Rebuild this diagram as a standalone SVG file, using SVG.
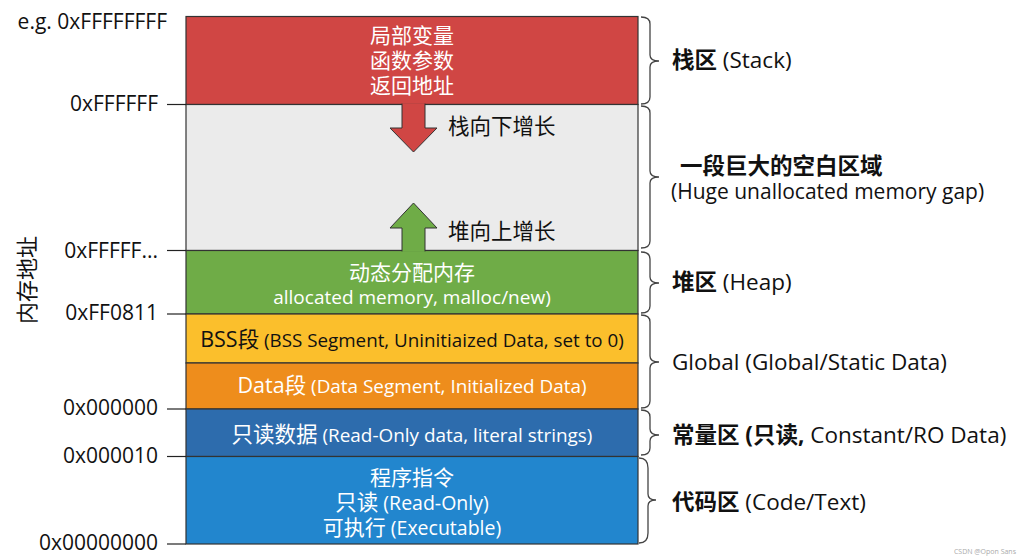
<svg xmlns="http://www.w3.org/2000/svg" width="1024" height="559" viewBox="0 0 1024 559">
<style>
text{font-family:"Open Sans","Noto Sans CJK SC",sans-serif;}
.seg{stroke:#333;stroke-width:1.2;}
.w{fill:#fff;}
.k{fill:#111;}
.b{font-weight:bold;}
.addr{font-size:21px;fill:#111;text-anchor:end;}
.tick{stroke:#222;stroke-width:1.2;}
.brace{fill:none;stroke:#444;stroke-width:1.3;}
.lab{font-size:22.5px;fill:#111;}
.mid{text-anchor:middle;}
</style>
<rect width="1024" height="559" fill="#fff"/>

<g id="axis-label">
<text class="k" font-size="22" text-anchor="middle" transform="translate(35,280) rotate(-90)">内存地址</text>
</g>

<g id="addresses">
<text class="addr" x="167" y="29">e.g. 0xFFFFFFFF</text>
<text class="addr" x="158" y="111">0xFFFFFF</text>
<text class="addr" x="158" y="258">0xFFFFF...</text>
<text class="addr" x="158" y="320">0xFF0811</text>
<text class="addr" x="158" y="415">0x000000</text>
<text class="addr" x="158" y="463">0x000010</text>
<text class="addr" x="158" y="550">0x00000000</text>
</g>

<g id="stack">
<rect class="seg" x="186" y="16.5" width="452" height="88" fill="#D04644"/>
<text class="w mid" font-size="21" x="412" y="43">局部变量</text>
<text class="w mid" font-size="21" x="412" y="68">函数参数</text>
<text class="w mid" font-size="21" x="412" y="93">返回地址</text>
</g>

<g id="gap">
<rect class="seg" x="186" y="104.5" width="452" height="146" fill="#EBEBEB"/>
<text class="k" font-size="21.5" x="448" y="134">栈向下增长</text>
<text class="k" font-size="21.5" x="448" y="239">堆向上增长</text>
</g>

<g id="heap">
<rect class="seg" x="186" y="250.5" width="452" height="63.5" fill="#6FAC47"/>
<text class="w mid" font-size="21" x="412" y="280">动态分配内存</text>
<text class="w mid" font-size="19" x="412" y="304">allocated memory, malloc/new)</text>
</g>

<g id="bss">
<rect class="seg" x="186" y="314" width="452" height="49" fill="#FBBF2C"/>
<text class="k mid" x="412" y="347"><tspan font-size="21.5">BSS段</tspan><tspan font-size="18.8"> (BSS Segment, Uninitiaized Data, set to 0)</tspan></text>
</g>

<g id="data">
<rect class="seg" x="186" y="363" width="452" height="46" fill="#EE8D1C"/>
<text class="w mid" x="412" y="393"><tspan font-size="21.5">Data段</tspan><tspan font-size="18.9"> (Data Segment, Initialized Data)</tspan></text>
</g>

<g id="rodata">
<rect class="seg" x="186" y="409" width="452" height="47.5" fill="#2D6CAD"/>
<text class="w mid" x="412" y="442"><tspan font-size="21.5">只读数据</tspan><tspan font-size="18.9"> (Read-Only data, literal strings)</tspan></text>
</g>

<g id="code">
<rect class="seg" x="186" y="456.5" width="452" height="87.5" fill="#2286CE"/>
<text class="w mid" font-size="21" x="412" y="485">程序指令</text>
<text class="w mid" x="412" y="510"><tspan font-size="21.5">只读</tspan><tspan font-size="19.5"> (Read-Only)</tspan></text>
<text class="w mid" x="412" y="535"><tspan font-size="21">可执行</tspan><tspan font-size="19.5"> (Executable)</tspan></text>
</g>

<g id="connectors">
<line class="tick" x1="167" y1="104.5" x2="186" y2="104.5"/>
<line class="tick" x1="167" y1="250.5" x2="186" y2="250.5"/>
<line class="tick" x1="167" y1="314" x2="186" y2="314"/>
<line class="tick" x1="167" y1="409" x2="186" y2="409"/>
<line class="tick" x1="167" y1="456.5" x2="186" y2="456.5"/>
<line class="tick" x1="167" y1="544" x2="186" y2="544"/>
<path d="M402,103.6 L402,128 L390,128 L413.5,152 L437,128 L425,128 L425,103.6" fill="#D04644" stroke="#333" stroke-width="1"/>
<path d="M402,251.4 L402,228 L390,228 L413.5,203 L437,228 L425,228 L425,251.4" fill="#6FAC47" stroke="#333" stroke-width="1"/>
<path class="brace" d="M641,17 Q650,17 650,24 L650,55 Q650,61 659,61 Q650,61 650,67 L650,97 Q650,104 641,104"/>
<path class="brace" d="M641,106 Q650,106 650,113 L650,171 Q650,177 659,177 Q650,177 650,183 L650,241 Q650,248 641,248"/>
<path class="brace" d="M641,252 Q650,252 650,259 L650,277 Q650,283 659,283 Q650,283 650,289 L650,306 Q650,313 641,313"/>
<path class="brace" d="M641,315 Q650,315 650,322 L650,356 Q650,362 659,362 Q650,362 650,368 L650,401 Q650,408 641,408"/>
<path class="brace" d="M641,410 Q650,410 650,417 L650,429 Q650,435 659,435 Q650,435 650,441 L650,448 Q650,455 641,455"/>
<path class="brace" d="M639,458 Q648,458 648,468 L648,494 Q648,500 656,500 Q648,500 648,506 L648,533 Q648,543 639,543"/>
</g>

<g id="region-labels">
<text class="lab" x="672" y="68"><tspan class="b">栈区</tspan> (Stack)</text>
<text class="lab b" x="680" y="174">一段巨大的空白区域</text>
<text class="lab" x="671" y="199" style="font-size:21px">(Huge unallocated memory gap)</text>
<text class="lab" x="672" y="290"><tspan class="b">堆区</tspan> (Heap)</text>
<text class="lab" x="672" y="370">Global (Global/Static Data)</text>
<text class="lab" x="672" y="443"><tspan class="b">常量区 (只读,</tspan> Constant/RO Data)</text>
<text class="lab" x="672" y="510"><tspan class="b">代码区</tspan> (Code/Text)</text>
</g>

<text x="1016" y="554" font-size="7" fill="#AAAAAA" text-anchor="end">CSDN @Opon Sans</text>
</svg>
